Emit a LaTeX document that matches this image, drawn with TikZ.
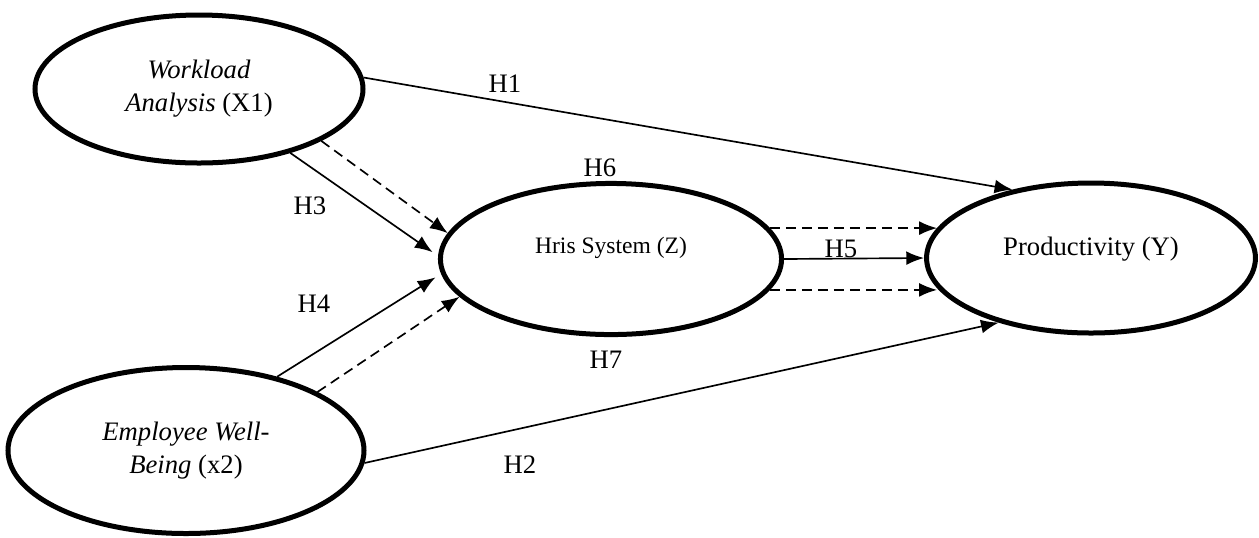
\documentclass[tikz,border=0pt]{standalone}
\usepackage{fontspec}
\setmainfont{Liberation Serif}
\usetikzlibrary{shapes.geometric,arrows.meta}

\begin{document}
\begin{tikzpicture}[x=0.45pt,y=-0.45pt,
	latent/.style={draw,ellipse,line width=2.25pt,inner sep=0pt,align=center,
		font=\fontsize{12}{14.8}\selectfont},
	link/.style={line width=0.75pt,-{Latex[length=8pt,width=6.2pt]}},
	indlink/.style={link,dash pattern=on 4.5pt off 2.7pt},
	hyp/.style={font=\fontsize{12}{14}\selectfont}]
	\useasboundingbox (0,0) rectangle (1259,537);
	
	\node[latent,minimum width=147.6pt,minimum height=66.6pt] (wa) at (199,89)
	{\textit{Workload}\\\textit{Analysis} (X1)};
	\node[latent,minimum width=160.2pt,minimum height=74.7pt] (wb) at (186,450.5)
	{\textit{Employee Well-}\\\textit{Being} (x2)};
	\node[latent,minimum width=153.5pt,minimum height=68pt,text depth=12pt,
	font=\fontsize{10.6}{13}\selectfont] (hs) at (611,259) {Hris System (Z)};
	\node[latent,minimum width=148pt,minimum height=67.5pt,text depth=11pt] (pr)
	at (1091,258) {Productivity (Y)};
	
	% direct paths
	\draw[link] (wa.4) -- (pr.139);
	\draw[link] (wb.-4) -- (pr.215);
	\draw[link,shorten >=3pt] (wa.-35) -- (hs.179);
	\draw[link,shorten >=3pt] (wb.39) -- (hs.185);
	\draw[link] (hs.east) -- (pr.west);
	% mediated paths
	\draw[indlink] (wa.-23) -- (hs.171);
	\draw[indlink] (wb.24) -- (hs.194);
	\draw[indlink] (hs.11) -- (hs.11 -| pr.169);
	\draw[indlink] (hs.-11) -- (hs.-11 -| pr.191);
	
	\foreach \n/\x/\y in {1/505/84,2/520/465,3/310/206,4/314/304,5/841/249,6/600/168,7/606/360}
	\node[hyp] (h\n) at (\x,\y) {H\n};
	
\end{tikzpicture}
\end{document}
